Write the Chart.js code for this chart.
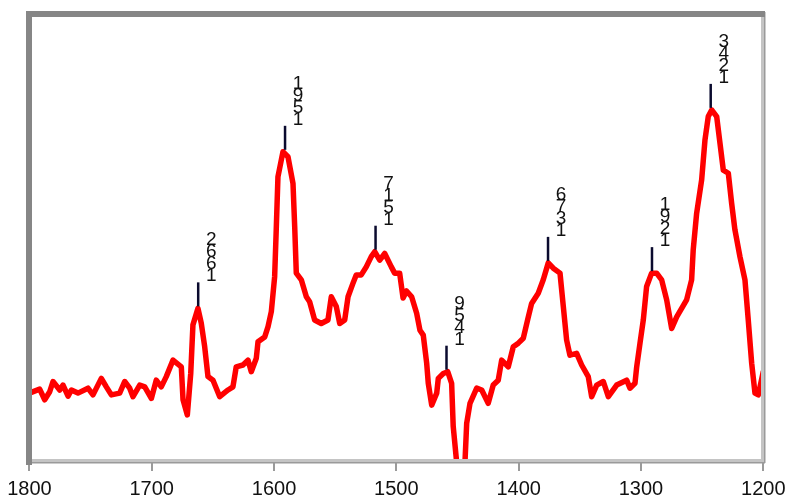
<!DOCTYPE html>
<html>
<head>
<meta charset="utf-8">
<title>Spectrum</title>
<script src="https://cdn.jsdelivr.net/npm/chart.js@4/dist/chart.umd.min.js"></script>
<style>
  html, body { margin: 0; padding: 0; background: #fff; }
  canvas { display: block; }
</style>
</head>
<body>
<canvas id="spectrum" width="785" height="498"></canvas>
<script>
const wavenumbers = [
  1800, 1791.6, 1787.5, 1783.4, 1780.7, 1775.2, 1772.5, 1768.4, 1765.7, 1760.3,
  1752.1, 1748, 1741.2, 1737.1, 1733, 1726.2, 1722.1, 1718, 1715.3, 1709.8,
  1705.7, 1700.3, 1696.3, 1692.2, 1688.1, 1682.6, 1675.8, 1674.4, 1670.9, 1668.1,
  1666.3, 1662.2, 1659.5, 1656.7, 1654, 1649.9, 1644.4, 1637.6, 1633.6, 1630.9,
  1625.4, 1621.3, 1618.6, 1614.5, 1613.1, 1607.6, 1604.9, 1602.2, 1599.5, 1598.2,
  1596.8, 1592.7, 1588.6, 1584.5, 1583.1, 1581.8, 1577.7, 1573.6, 1570.9, 1566.8,
  1561.4, 1555.9, 1553.2, 1549.1, 1546.3, 1542.2, 1539.5, 1535.5, 1532.8, 1528.7,
  1524.6, 1520.5, 1517.7, 1513.6, 1509.5, 1504.1, 1501.4, 1497.3, 1494.5, 1491.7,
  1487.5, 1483.4, 1480.7, 1478, 1475.2, 1473.9, 1471.1, 1467, 1465.7, 1461.6,
  1458, 1454.8, 1453.5, 1450.7, 1443.9, 1442.5, 1439.8, 1434.3, 1430.2, 1424.9,
  1420.8, 1416.7, 1413.9, 1408.5, 1404.4, 1400.3, 1396.2, 1392.1, 1389.4, 1384,
  1379.9, 1375.8, 1371.7, 1366.2, 1363.5, 1360.8, 1358.1, 1352.6, 1348.5, 1343.1,
  1340.3, 1336.2, 1330.8, 1326.7, 1319.9, 1311.7, 1309, 1304.9, 1303.5, 1300.8,
  1298.1, 1295.4, 1291.3, 1287.2, 1283.1, 1279, 1274.9, 1270.8, 1262.7, 1258.6,
  1257.3, 1254.5, 1250.4, 1247.7, 1245, 1242.2, 1238.1, 1235.4, 1232.7, 1228.6,
  1225.9, 1223.2, 1219.1, 1215, 1212.3, 1209.5, 1206.8, 1204.1, 1200
];

const absorbance = [
  0.150, 0.159, 0.135, 0.153, 0.176, 0.157, 0.168, 0.143, 0.157, 0.150,
  0.161, 0.146, 0.183, 0.164, 0.146, 0.150, 0.176, 0.161, 0.142, 0.168,
  0.164, 0.138, 0.179, 0.164, 0.187, 0.224, 0.209, 0.135, 0.101, 0.194,
  0.303, 0.340, 0.307, 0.254, 0.187, 0.179, 0.142, 0.157, 0.164, 0.209,
  0.213, 0.224, 0.198, 0.228, 0.265, 0.276, 0.299, 0.333, 0.411, 0.516,
  0.635, 0.691, 0.680, 0.620, 0.523, 0.419, 0.404, 0.366, 0.355, 0.314,
  0.306, 0.314, 0.366, 0.344, 0.306, 0.314, 0.366, 0.396, 0.415, 0.415,
  0.433, 0.456, 0.467, 0.448, 0.463, 0.433, 0.419, 0.419, 0.363, 0.379,
  0.366, 0.329, 0.291, 0.280, 0.217, 0.172, 0.123, 0.150, 0.183, 0.194,
  0.198, 0.172, 0.075, -0.005, -0.005, 0.082, 0.127, 0.161, 0.157, 0.127,
  0.168, 0.179, 0.224, 0.209, 0.254, 0.262, 0.273, 0.321, 0.351, 0.374,
  0.404, 0.442, 0.430, 0.419, 0.344, 0.269, 0.235, 0.239, 0.213, 0.187,
  0.142, 0.168, 0.176, 0.142, 0.168, 0.179, 0.161, 0.172, 0.209, 0.262,
  0.314, 0.389, 0.419, 0.419, 0.404, 0.359, 0.295, 0.321, 0.359, 0.404,
  0.471, 0.553, 0.628, 0.717, 0.770, 0.785, 0.770, 0.710, 0.650, 0.643,
  0.576, 0.516, 0.456, 0.404, 0.314, 0.217, 0.150, 0.146, 0.198
];

const peakPositions = [1662, 1591, 1517, 1459, 1376, 1291, 1243];
const peakLabels = ['1662', '1591', '1517', '1459', '1376', '1291', '1243'];

const xTicks = [1800, 1700, 1600, 1500, 1400, 1300, 1200];

const points = wavenumbers.map((w, i) => ({ x: w, y: absorbance[i] }));

function peakHeight(pos) {
  let best = null;
  wavenumbers.forEach((w, i) => {
    if (Math.abs(w - pos) <= 3 && (best === null || absorbance[i] > best)) best = absorbance[i];
  });
  return best;
}

const peakMarks = {
  id: 'peakMarks',
  afterDatasetsDraw(chart) {
    const ctx = chart.ctx;
    const xs = chart.scales.x;
    const ys = chart.scales.y;
    ctx.save();
    peakPositions.forEach((pos, i) => {
      const px = xs.getPixelForValue(pos);
      const py = ys.getPixelForValue(peakHeight(pos));
      ctx.strokeStyle = '#0a0a2e';
      ctx.lineWidth = 2.5;
      ctx.beginPath();
      ctx.moveTo(px, py - 2);
      ctx.lineTo(px, py - 26);
      ctx.stroke();

      // digits stacked upright, read from bottom to top
      ctx.fillStyle = '#111';
      ctx.font = '19px "Liberation Sans", Arial, sans-serif';
      ctx.textAlign = 'center';
      ctx.textBaseline = 'alphabetic';
      const chars = peakLabels[i].split('');
      chars.forEach((c, k) => {
        ctx.fillText(c, px + 13, py - 27 - k * 12);
      });
    });
    ctx.restore();
  }
};

const frame = {
  id: 'frame',
  afterDraw(chart) {
    const ctx = chart.ctx;
    ctx.save();
    ctx.fillStyle = '#c4c4c4';
    ctx.fillRect(30, 459, 735, 4);
    ctx.fillRect(761, 12, 4, 451);
    ctx.fillStyle = '#9a9a9a';
    ctx.fillRect(30, 462, 735, 1.5);
    ctx.fillRect(764, 12, 1.5, 451);
    ctx.fillStyle = '#868686';
    ctx.fillRect(26, 11, 739, 6);
    ctx.fillRect(26, 11, 6, 454);
    ctx.restore();
  }
};

new Chart(document.getElementById('spectrum'), {
  type: 'line',
  data: {
    datasets: [{
      data: points,
      borderColor: '#ff0000',
      borderWidth: 5.5,
      pointRadius: 0,
      fill: false,
      tension: 0,
      borderJoinStyle: 'round',
      borderCapStyle: 'round'
    }]
  },
  options: {
    responsive: false,
    animation: false,
    devicePixelRatio: 1,
    layout: { padding: { left: 29.4, right: 21.7, top: 14, bottom: 0 } },
    plugins: { legend: { display: false }, tooltip: { enabled: false } },
    scales: {
      x: {
        type: 'linear',
        reverse: true,
        min: 1200,
        max: 1800,
        afterBuildTicks(scale) {
          scale.ticks = xTicks.map(v => ({ value: v }));
        },
        afterFit(scale) {
          scale.height = 38;
          scale.paddingLeft = 0;
          scale.paddingRight = 0;
        },
        border: { display: false },
        grid: {
          drawOnChartArea: false,
          drawTicks: true,
          tickLength: 11,
          color: '#9a9a9a',
          lineWidth: 2
        },
        ticks: {
          color: '#111',
          padding: 6,
          maxRotation: 0,
          callback: v => String(v),
          font: { family: '"Liberation Sans", Arial, sans-serif', size: 20 }
        }
      },
      y: {
        display: false,
        min: 0,
        max: 1
      }
    }
  },
  plugins: [peakMarks, frame]
});
</script>
</body>
</html>
